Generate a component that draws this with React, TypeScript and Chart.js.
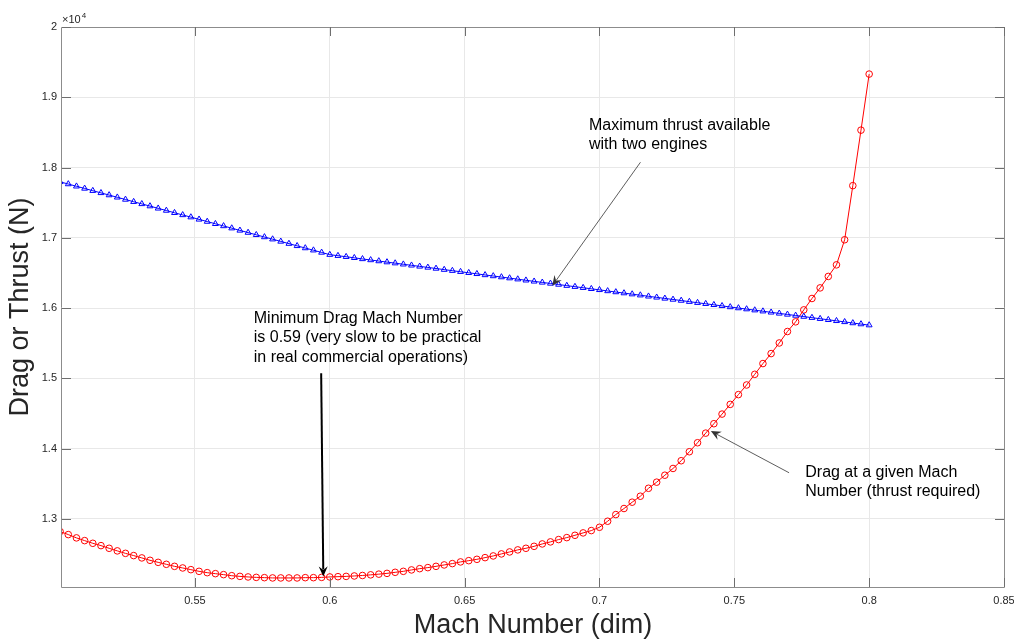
import React, { useEffect, useRef } from "react";
import { Chart, registerables } from "chart.js";

Chart.register(...registerables);

// Mach numbers (linspace 0.5 .. 0.8, 100 points)
const mach = [
  0.5, 0.50303, 0.50606, 0.50909, 0.51212, 0.51515, 0.51818, 0.52121, 0.52424, 0.52727,
  0.5303, 0.53333, 0.53636, 0.53939, 0.54242, 0.54545, 0.54848, 0.55152, 0.55455, 0.55758,
  0.56061, 0.56364, 0.56667, 0.5697, 0.57273, 0.57576, 0.57879, 0.58182, 0.58485, 0.58788,
  0.59091, 0.59394, 0.59697, 0.6, 0.60303, 0.60606, 0.60909, 0.61212, 0.61515, 0.61818,
  0.62121, 0.62424, 0.62727, 0.6303, 0.63333, 0.63636, 0.63939, 0.64242, 0.64545, 0.64848,
  0.65152, 0.65455, 0.65758, 0.66061, 0.66364, 0.66667, 0.6697, 0.67273, 0.67576, 0.67879,
  0.68182, 0.68485, 0.68788, 0.69091, 0.69394, 0.69697, 0.7, 0.70303, 0.70606, 0.70909,
  0.71212, 0.71515, 0.71818, 0.72121, 0.72424, 0.72727, 0.7303, 0.73333, 0.73636, 0.73939,
  0.74242, 0.74545, 0.74848, 0.75152, 0.75455, 0.75758, 0.76061, 0.76364, 0.76667, 0.7697,
  0.77273, 0.77576, 0.77879, 0.78182, 0.78485, 0.78788, 0.79091, 0.79394, 0.79697, 0.8,
];

// Drag (thrust required), N
const dragN = [
  12819, 12776, 12729, 12690, 12652, 12619, 12581, 12544, 12509, 12477,
  12444, 12410, 12381, 12353, 12324, 12301, 12277, 12253, 12234, 12220,
  12206, 12191, 12181, 12173, 12167, 12163, 12159, 12159, 12159, 12159,
  12163, 12163, 12167, 12173, 12177, 12181, 12187, 12194, 12203, 12213,
  12224, 12239, 12253, 12273, 12291, 12306, 12324, 12344, 12363, 12387,
  12405, 12424, 12448, 12472, 12501, 12529, 12558, 12581, 12609, 12643,
  12672, 12705, 12733, 12766, 12800, 12833, 12880, 12966, 13061, 13147,
  13237, 13322, 13435, 13522, 13621, 13717, 13827, 13955, 14083, 14220,
  14354, 14491, 14629, 14768, 14905, 15057, 15210, 15352, 15503, 15666,
  15804, 15974, 16136, 16287, 16450, 16615, 16972, 17742, 18532, 19330,
];

// Maximum thrust available with two engines, N
const thrustN = [
  17796, 17765, 17733, 17702, 17670, 17639, 17608, 17576, 17545, 17513,
  17482, 17451, 17419, 17388, 17356, 17325, 17294, 17262, 17231, 17199,
  17168, 17137, 17105, 17074, 17042, 17011, 16980, 16948, 16917, 16885,
  16854, 16823, 16791, 16760, 16745, 16730, 16715, 16699, 16684, 16669,
  16654, 16639, 16623, 16608, 16593, 16578, 16563, 16547, 16532, 16517,
  16502, 16487, 16471, 16456, 16441, 16426, 16411, 16395, 16380, 16365,
  16350, 16335, 16319, 16304, 16289, 16274, 16259, 16243, 16228, 16213,
  16198, 16183, 16167, 16152, 16137, 16122, 16107, 16091, 16076, 16061,
  16046, 16031, 16015, 16000, 15985, 15970, 15955, 15939, 15924, 15909,
  15894, 15879, 15863, 15848, 15833, 15818, 15803, 15787, 15772, 15757,
];

const xTicks = [0.55, 0.6, 0.65, 0.7, 0.75, 0.8, 0.85];
const xTickLabels = ["0.55", "0.6", "0.65", "0.7", "0.75", "0.8", "0.85"];
const yTicks = [13000, 14000, 15000, 16000, 17000, 18000, 19000, 20000];
const yTickLabels = ["1.3", "1.4", "1.5", "1.6", "1.7", "1.8", "1.9", "2"];

const X_MIN = 0.5007;
const X_MAX = 0.85;
const Y_MIN = 12030;
const Y_MAX = 20000;

const xTitle = "Mach Number (dim)";
const yTitle = "Drag or Thrust (N)";

// Text notes (anchor: left edge / first line centre, in data units)
const notes = [
  { lines: ["Maximum thrust available", "with two engines"], mach: 0.6961, n: 18597 },
  {
    lines: ["Minimum Drag Mach Number", "is 0.59 (very slow to be practical", "in real commercial operations)"],
    mach: 0.5718,
    n: 15856,
  },
  { lines: ["Drag at a given Mach", "Number (thrust required)"], mach: 0.7763, n: 13664 },
];

// Arrows (tail -> head, in data units)
const arrows = [
  { from: [0.7152, 18075], to: [0.6825, 16316], width: 0.8, color: "#333" },
  { from: [0.5968, 15071], to: [0.5976, 12181], width: 2, color: "#000" },
  { from: [0.7703, 13656], to: [0.7413, 14249], width: 0.8, color: "#333" },
];

const FONT = "'Liberation Sans', Helvetica, Arial, sans-serif";

function drawArrowHead(ctx: CanvasRenderingContext2D, x1: number, y1: number, x2: number, y2: number, color: string) {
  const ang = Math.atan2(y2 - y1, x2 - x1);
  const L = 10;
  const W = 4.5;
  const back = 6.5;
  const cos = Math.cos(ang);
  const sin = Math.sin(ang);
  const bx = x2 - L * cos;
  const by = y2 - L * sin;
  const nx = x2 - back * cos;
  const ny = y2 - back * sin;
  ctx.beginPath();
  ctx.moveTo(x2, y2);
  ctx.lineTo(bx - W * sin, by + W * cos);
  ctx.lineTo(nx, ny);
  ctx.lineTo(bx + W * sin, by - W * cos);
  ctx.closePath();
  ctx.fillStyle = color;
  ctx.fill();
}

const decorPlugin = {
  id: "decor",
  afterDatasetsDraw(chart: any) {
    const ctx: CanvasRenderingContext2D = chart.ctx;
    const { left, right, top, bottom } = chart.chartArea;
    const xs = chart.scales.x;
    const ys = chart.scales.y;
    ctx.save();

    // box
    ctx.strokeStyle = "#8c8c8c";
    ctx.lineWidth = 1;
    ctx.beginPath();
    ctx.rect(Math.round(left) - 0.5, Math.round(top) + 0.5, Math.round(right - left) + 1, Math.round(bottom - top));
    ctx.stroke();

    // inward ticks
    ctx.strokeStyle = "#6e6e6e";
    ctx.beginPath();
    const tl = 9;
    xTicks.forEach((v) => {
      const px = Math.round(xs.getPixelForValue(v)) + 0.5;
      ctx.moveTo(px, bottom);
      ctx.lineTo(px, bottom - tl);
      ctx.moveTo(px, top);
      ctx.lineTo(px, top + tl);
    });
    yTicks.forEach((v) => {
      const py = Math.round(ys.getPixelForValue(v)) + 0.5;
      ctx.moveTo(left, py);
      ctx.lineTo(left + tl, py);
      ctx.moveTo(right, py);
      ctx.lineTo(right - tl, py);
    });
    ctx.stroke();

    // exponent label
    ctx.fillStyle = "#262626";
    ctx.textBaseline = "alphabetic";
    ctx.textAlign = "left";
    ctx.font = `11px ${FONT}`;
    ctx.fillText("\u00d710", left, top - 4);
    const w = ctx.measureText("\u00d710").width;
    ctx.font = `8px ${FONT}`;
    ctx.fillText("4", left + w + 1, top - 9);

    // notes
    ctx.font = `16px ${FONT}`;
    ctx.fillStyle = "#000";
    ctx.textBaseline = "middle";
    notes.forEach((nt) => {
      const x = xs.getPixelForValue(nt.mach);
      const y0 = ys.getPixelForValue(nt.n);
      nt.lines.forEach((ln, i) => ctx.fillText(ln, x, y0 + i * 19.5));
    });

    // arrows
    arrows.forEach((a) => {
      const x1 = xs.getPixelForValue(a.from[0]);
      const y1 = ys.getPixelForValue(a.from[1]);
      const x2 = xs.getPixelForValue(a.to[0]);
      const y2 = ys.getPixelForValue(a.to[1]);
      const ang = Math.atan2(y2 - y1, x2 - x1);
      ctx.strokeStyle = a.color;
      ctx.lineWidth = a.width;
      ctx.beginPath();
      ctx.moveTo(x1, y1);
      ctx.lineTo(x2 - 7 * Math.cos(ang), y2 - 7 * Math.sin(ang));
      ctx.stroke();
      drawArrowHead(ctx, x1, y1, x2, y2, a.color);
    });

    // axis titles
    ctx.fillStyle = "#262626";
    ctx.font = `27px ${FONT}`;
    ctx.textAlign = "center";
    ctx.textBaseline = "middle";
    ctx.fillText(xTitle, (left + right) / 2, bottom + 39);
    ctx.save();
    ctx.translate(21, (top + bottom) / 2);
    ctx.rotate(-Math.PI / 2);
    ctx.fillText(yTitle, 0, 0);
    ctx.restore();

    ctx.restore();
  },
};

export default function App() {
  const ref = useRef<HTMLCanvasElement | null>(null);

  useEffect(() => {
    if (!ref.current) return;
    const chart = new Chart(ref.current, {
      type: "line",
      data: {
        datasets: [
          {
            label: "Thrust available",
            data: mach.map((m, i) => ({ x: m, y: thrustN[i] })),
            borderColor: "#0000ff",
            borderWidth: 1,
            pointStyle: "triangle",
            pointRadius: 3.4,
            pointBorderWidth: 1,
            pointBorderColor: "#0000ff",
            pointBackgroundColor: "rgba(0,0,0,0)",
            fill: false,
            tension: 0,
          },
          {
            label: "Drag",
            data: mach.map((m, i) => ({ x: m, y: dragN[i] })),
            borderColor: "#ff0000",
            borderWidth: 1,
            pointStyle: "circle",
            pointRadius: 3.3,
            pointBorderWidth: 1,
            pointBorderColor: "#ff0000",
            pointBackgroundColor: "rgba(0,0,0,0)",
            fill: false,
            tension: 0,
          },
        ],
      },
      options: {
        animation: false,
        responsive: false,
        devicePixelRatio: 1,
        layout: { padding: { left: 0, right: 10, top: 27, bottom: 0 } },
        plugins: { legend: { display: false }, tooltip: { enabled: false } },
        scales: {
          x: {
            type: "linear",
            min: X_MIN,
            max: X_MAX,
            afterBuildTicks: (s: any) => {
              s.ticks = xTicks.map((v) => ({ value: v }));
            },
            afterFit: (s: any) => {
              s.height = 53;
              s.paddingLeft = 0;
              s.paddingRight = 0;
            },
            ticks: {
              autoSkip: false,
              maxRotation: 0,
              padding: 7,
              color: "#262626",
              font: { family: FONT, size: 11 },
              callback: (v: any) => xTickLabels[xTicks.indexOf(v)] ?? "",
            },
            grid: { color: "#e8e8e8", drawTicks: false, lineWidth: 1 },
            border: { display: false },
          },
          y: {
            type: "linear",
            min: Y_MIN,
            max: Y_MAX,
            afterBuildTicks: (s: any) => {
              s.ticks = yTicks.map((v) => ({ value: v }));
            },
            afterFit: (s: any) => {
              s.width = 62;
              s.paddingTop = 0;
              s.paddingBottom = 0;
            },
            ticks: {
              autoSkip: false,
              padding: 5,
              color: "#262626",
              font: { family: FONT, size: 11 },
              callback: (v: any) => yTickLabels[yTicks.indexOf(v)] ?? "",
            },
            grid: { color: "#e8e8e8", drawTicks: false, lineWidth: 1 },
            border: { display: false },
          },
        },
      },
      plugins: [decorPlugin],
    });
    return () => chart.destroy();
  }, []);

  return (
    <div style={{ position: "absolute", left: 0, top: 0, width: 1014, height: 640, background: "#fff" }}>
      <canvas ref={ref} width={1014} height={640} style={{ display: "block", width: 1014, height: 640 }} />
    </div>
  );
}
